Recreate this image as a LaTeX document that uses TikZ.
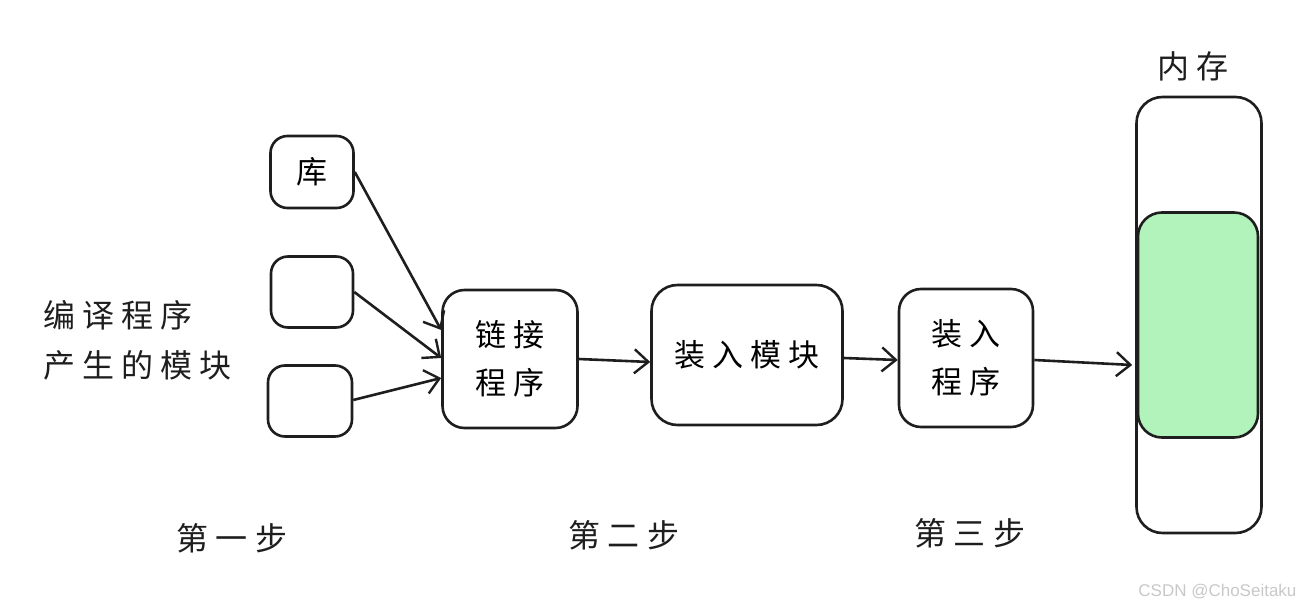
\documentclass[tikz,border=0pt]{standalone}
\usepackage{fontspec}
\usepackage{tikz}
\usetikzlibrary{arrows.meta,positioning}
\newfontfamily\hand[LetterSpace=22]{Noto Sans CJK SC}
\setmainfont{Liberation Sans}
\definecolor{inkclr}{HTML}{1E1E1E}
\definecolor{usedclr}{HTML}{B2F2BB}
\definecolor{markclr}{HTML}{C8C8C8}

\tikzset{
  blk/.style={draw=inkclr, line width=2.6pt, rounded corners=17pt, inner sep=0pt,
              align=center, font=\hand\fontsize{31}{48}\selectfont},
  flow/.style={-{Straight Barb[length=14pt, width=24pt, line width=2.4pt]}, line width=2.6pt, inkclr},
  steplbl/.style={font=\hand\fontsize{32}{36}\selectfont, inkclr}
}

\begin{document}
\begin{tikzpicture}[x=1pt, y=-1pt]
\useasboundingbox (0,0) rectangle (1304,615);

% --- input modules ----------------------------------------------------------
\node[blk, minimum width=83pt, minimum height=72pt] (lib)  at (312,172) {库};
\node[blk, minimum width=82pt, minimum height=71pt] (modA) at (312,292) {};
\node[blk, minimum width=84pt, minimum height=71pt] (modB) at (310,401) {};
\node[inkclr, font=\hand\fontsize{32}{50}\selectfont, align=left, anchor=west]
  (srcnote) at (40,340) {编译程序\\产生的模块};

% --- the chain ---------------------------------------------------------------
\node[blk, minimum width=135pt, minimum height=138pt, rounded corners=22pt]
  (linker) at (510,359) {链接\\程序};
\node[blk, minimum width=191pt, minimum height=140pt, rounded corners=26pt]
  (loadmod) at (747,355) {装入模块};
\node[blk, minimum width=134pt, minimum height=138pt, rounded corners=22pt]
  (loader) at (966,358) {装入\\程序};

% --- memory ------------------------------------------------------------------
\node[blk, minimum width=125pt, minimum height=436pt, rounded corners=26pt]
  (mem) at (1199,315) {};
\node[blk, fill=usedclr, minimum width=120pt, minimum height=225pt, rounded corners=24pt]
  (memused) at (1198,325) {};
\node[steplbl] (memlbl) at (1193,66) {内存};

% --- connectors (yshift is in page pt, so up is positive) --------------------
\draw[flow] (lib.east)                -- ([yshift=29pt]linker.west);
\draw[flow] (modA.east)               -- ([yshift=1pt]linker.west);
\draw[flow] ([yshift=1pt]modB.east)   -- ([yshift=-19pt]linker.west);
\draw[flow] (linker.east)             -- ([yshift=-7pt]loadmod.west);
\draw[flow] ([yshift=-3pt]loadmod.east) -- ([yshift=-2pt]loader.west);
\draw[flow] ([yshift=-2pt]loader.east)  -- ([yshift=-50pt,xshift=-3pt]mem.west);

% --- step labels -------------------------------------------------------------
\node[steplbl] (stepone)   at (232,538) {第一步};
\node[steplbl] (steptwo)   at (624,535) {第二步};
\node[steplbl] (stepthree) at (970,533) {第三步};

\node[markclr, font=\fontsize{17}{20}\selectfont, anchor=east] (wmark) at (1300,592) {CSDN @ChoSeitaku};
\end{tikzpicture}
\end{document}
